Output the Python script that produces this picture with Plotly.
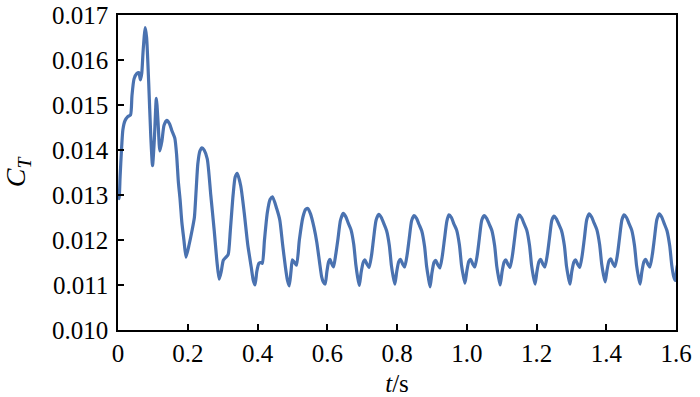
import plotly.graph_objects as go

# time (s) and thrust coefficient
t_start = [0.000, 0.003, 0.006, 0.010, 0.014, 0.020, 0.028, 0.036, 0.040, 0.046,
           0.054, 0.060, 0.064, 0.068, 0.072, 0.078, 0.082, 0.088, 0.094, 0.099,
           0.104, 0.110, 0.115, 0.120, 0.126, 0.132, 0.140, 0.148, 0.154, 0.163,
           0.168, 0.173, 0.178, 0.183, 0.189, 0.195, 0.204, 0.212, 0.219, 0.224,
           0.229, 0.235, 0.241, 0.247, 0.256, 0.266, 0.276, 0.284, 0.290, 0.296,
           0.302, 0.310, 0.316, 0.322, 0.330, 0.336, 0.342, 0.352, 0.362, 0.372,
           0.382, 0.388, 0.393, 0.398, 0.404, 0.410, 0.414, 0.420, 0.428, 0.436,
           0.443, 0.455, 0.464, 0.472, 0.480, 0.486, 0.491, 0.496, 0.500, 0.506,
           0.512, 0.520, 0.530, 0.538, 0.544, 0.552, 0.562, 0.570, 0.578, 0.584,
           0.589, 0.594, 0.599, 0.604, 0.608, 0.613, 0.618, 0.624, 0.631, 0.638]
ct_start = [0.01300, 0.01292, 0.01340, 0.01400, 0.01445, 0.01465, 0.01474, 0.01478, 0.01520, 0.01558,
            0.01570, 0.01572, 0.01556, 0.01570, 0.01620, 0.01672, 0.01650, 0.01550, 0.01430, 0.01365,
            0.01420, 0.01515, 0.01460, 0.01398, 0.01420, 0.01455, 0.01466, 0.01458, 0.01444, 0.01426,
            0.01390, 0.01330, 0.01290, 0.01240, 0.01200, 0.01162, 0.01190, 0.01220, 0.01250, 0.01310,
            0.01370, 0.01398, 0.01405, 0.01400, 0.01380, 0.01300, 0.01220, 0.01150, 0.01113, 0.01130,
            0.01155, 0.01162, 0.01168, 0.01220, 0.01300, 0.01340, 0.01348, 0.01320, 0.01260, 0.01190,
            0.01140, 0.01110, 0.01100, 0.01130, 0.01148, 0.01150, 0.01148, 0.01200, 0.01260, 0.01290,
            0.01296, 0.01270, 0.01244, 0.01190, 0.01140, 0.01110, 0.01098, 0.01130, 0.01156, 0.01150,
            0.01144, 0.01200, 0.01250, 0.01268, 0.01270, 0.01258, 0.01228, 0.01195, 0.01150, 0.01118,
            0.01106, 0.01102, 0.01130, 0.01152, 0.01157, 0.01147, 0.01140, 0.01166, 0.01204, 0.01244]

t_periodic = [0.646, 0.653, 0.660, 0.668, 0.676, 0.682, 0.687, 0.692, 0.697, 0.703, 0.708, 0.714, 0.720, 0.727, 0.733, 0.740,
              0.748, 0.755, 0.762, 0.770, 0.778, 0.784, 0.789, 0.794, 0.799, 0.805, 0.810, 0.816, 0.822, 0.829, 0.835, 0.842,
              0.849, 0.856, 0.863, 0.871, 0.879, 0.885, 0.890, 0.895, 0.900, 0.906, 0.911, 0.917, 0.923, 0.930, 0.936, 0.943,
              0.949, 0.956, 0.963, 0.971, 0.979, 0.985, 0.990, 0.995, 1.000, 1.006, 1.011, 1.017, 1.023, 1.030, 1.036, 1.043,
              1.050, 1.057, 1.064, 1.072, 1.080, 1.086, 1.091, 1.096, 1.101, 1.107, 1.112, 1.118, 1.124, 1.131, 1.137, 1.144,
              1.150, 1.157, 1.164, 1.172, 1.180, 1.186, 1.191, 1.196, 1.201, 1.207, 1.212, 1.218, 1.224, 1.231, 1.237, 1.244,
              1.250, 1.257, 1.264, 1.272, 1.280, 1.286, 1.291, 1.296, 1.301, 1.307, 1.312, 1.318, 1.324, 1.331, 1.337, 1.344,
              1.351, 1.358, 1.365, 1.373, 1.381, 1.387, 1.392, 1.397, 1.402, 1.408, 1.413, 1.419, 1.425, 1.432, 1.438, 1.445,
              1.451, 1.458, 1.465, 1.473, 1.481, 1.487, 1.492, 1.497, 1.502, 1.508, 1.513, 1.519, 1.525, 1.532, 1.538, 1.545,
              1.552, 1.559, 1.566, 1.574, 1.582, 1.588, 1.593, 1.598, 1.603, 1.608]
ct_periodic = [0.01259, 0.01252, 0.01238, 0.01223, 0.01190, 0.01145, 0.01118, 0.01099, 0.01127, 0.01150, 0.01156, 0.01146, 0.01139, 0.01166, 0.01204, 0.01244,
               0.01257, 0.01250, 0.01237, 0.01221, 0.01188, 0.01143, 0.01119, 0.01102, 0.01129, 0.01152, 0.01157, 0.01147, 0.01140, 0.01167, 0.01203, 0.01243,
               0.01254, 0.01248, 0.01235, 0.01220, 0.01186, 0.01141, 0.01116, 0.01096, 0.01126, 0.01150, 0.01155, 0.01145, 0.01138, 0.01165, 0.01201, 0.01242,
               0.01256, 0.01250, 0.01236, 0.01222, 0.01189, 0.01144, 0.01121, 0.01104, 0.01130, 0.01153, 0.01157, 0.01147, 0.01140, 0.01166, 0.01203, 0.01244,
               0.01254, 0.01248, 0.01236, 0.01221, 0.01187, 0.01142, 0.01118, 0.01100, 0.01128, 0.01151, 0.01156, 0.01146, 0.01139, 0.01166, 0.01202, 0.01243,
               0.01256, 0.01250, 0.01237, 0.01222, 0.01188, 0.01143, 0.01119, 0.01102, 0.01129, 0.01152, 0.01157, 0.01147, 0.01140, 0.01167, 0.01203, 0.01244,
               0.01253, 0.01247, 0.01235, 0.01220, 0.01187, 0.01142, 0.01119, 0.01102, 0.01129, 0.01151, 0.01156, 0.01146, 0.01139, 0.01166, 0.01202, 0.01245,
               0.01258, 0.01251, 0.01238, 0.01223, 0.01190, 0.01146, 0.01123, 0.01107, 0.01132, 0.01154, 0.01158, 0.01148, 0.01141, 0.01167, 0.01204, 0.01245,
               0.01256, 0.01250, 0.01237, 0.01222, 0.01188, 0.01143, 0.01119, 0.01102, 0.01129, 0.01152, 0.01157, 0.01147, 0.01140, 0.01167, 0.01203, 0.01245,
               0.01258, 0.01251, 0.01237, 0.01221, 0.01187, 0.01143, 0.01120, 0.01110, 0.01140, 0.01155]

t_all = t_start + t_periodic
ct_all = ct_start + ct_periodic

x_tickvals = [0, 0.2, 0.4, 0.6, 0.8, 1.0, 1.2, 1.4, 1.6]
x_ticktext = ["0", "0.2", "0.4", "0.6", "0.8", "1.0", "1.2", "1.4", "1.6"]
y_tickvals = [0.010, 0.011, 0.012, 0.013, 0.014, 0.015, 0.016, 0.017]
y_ticktext = ["0.010", "0.011", "0.012", "0.013", "0.014", "0.015", "0.016", "0.017"]

fig = go.Figure()
fig.add_trace(go.Scatter(
    x=t_all, y=ct_all, mode="lines",
    line=dict(color="#4a72b0", width=3.2, shape="spline", smoothing=0.6),
    showlegend=False, hoverinfo="skip"))

font_family = "Liberation Serif, Times New Roman, serif"
axis_common = dict(
    showgrid=False, zeroline=False, showline=True, linecolor="black", linewidth=1.5,
    mirror=True, ticks="inside", ticklen=6, tickwidth=1.5, tickcolor="black",
    automargin=False,
    tickfont=dict(family=font_family, size=25, color="black"))

fig.update_layout(
    width=700, height=397,
    margin=dict(l=118, r=24, t=15, b=67, autoexpand=False),
    paper_bgcolor="white", plot_bgcolor="white",
    font=dict(family=font_family, color="black"),
    xaxis=dict(range=[0, 1.6], tickmode="array", tickvals=x_tickvals, ticktext=x_ticktext,
               title=dict(text="<i>t</i>/s", font=dict(family=font_family, size=25, color="black"),
                          standoff=9),
               **axis_common),
    yaxis=dict(range=[0.010, 0.017], tickmode="array", tickvals=y_tickvals, ticktext=y_ticktext,
               ticklabelstandoff=3,
               title=dict(text="<i>C</i><sub><i>T</i></sub>",
                          font=dict(family=font_family, size=28, color="black"), standoff=22),
               **axis_common),
)

fig.write_html("out.html", config={"displayModeBar": False},
               post_script="document.body.style.margin='0px';document.body.style.padding='0px';")
